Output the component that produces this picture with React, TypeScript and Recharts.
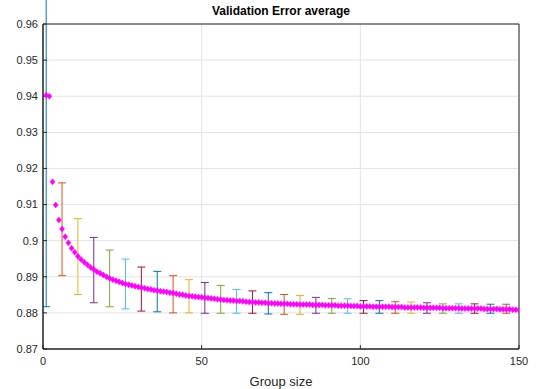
import React from "react";
import {
  ScatterChart,
  Scatter,
  XAxis,
  YAxis,
  CartesianGrid,
  ErrorBar,
  ReferenceArea,
} from "recharts";

// mean validation error for group sizes 1..150
const meanError = [
  0.9403, 0.94, 0.9163, 0.9099, 0.9057, 0.9032, 0.9011, 0.8994, 0.8979, 0.8968,
  0.8957, 0.8948, 0.894, 0.8933, 0.8926, 0.892, 0.8914, 0.891, 0.8905, 0.89,
  0.8896, 0.8892, 0.8889, 0.8886, 0.8883, 0.888, 0.8878, 0.8876, 0.8874, 0.8872,
  0.887, 0.8868, 0.8866, 0.8865, 0.8863, 0.8862, 0.886, 0.8859, 0.8858, 0.8856,
  0.8855, 0.8853, 0.8851, 0.885, 0.8848, 0.8847, 0.8846, 0.8845, 0.8844, 0.8843,
  0.8842, 0.8841, 0.884, 0.8839, 0.8838, 0.8837, 0.8836, 0.8835, 0.8834, 0.8834,
  0.8833, 0.8833, 0.8832, 0.8831, 0.883, 0.883, 0.8829, 0.8829, 0.8828, 0.8828,
  0.8827, 0.8827, 0.8826, 0.8826, 0.8825, 0.8825, 0.8825, 0.8824, 0.8824, 0.8824,
  0.8823, 0.8823, 0.8823, 0.8823, 0.8822, 0.8822, 0.8822, 0.8822, 0.8821, 0.8821,
  0.8821, 0.8821, 0.882, 0.882, 0.882, 0.882, 0.8819, 0.8819, 0.8819, 0.8818,
  0.8818, 0.8818, 0.8818, 0.8817, 0.8817, 0.8817, 0.8817, 0.8817, 0.8817, 0.8816,
  0.8816, 0.8816, 0.8816, 0.8815, 0.8815, 0.8815, 0.8815, 0.8815, 0.8815, 0.8814,
  0.8814, 0.8814, 0.8814, 0.8814, 0.8814, 0.8813, 0.8813, 0.8813, 0.8813, 0.8813,
  0.8813, 0.8812, 0.8812, 0.8812, 0.8812, 0.8812, 0.8812, 0.8812, 0.8811, 0.8811,
  0.8811, 0.8811, 0.8811, 0.881, 0.881, 0.881, 0.881, 0.8809, 0.8809, 0.8808,
];

// error bars every 5 group sizes
const errX = [
  1, 6, 11, 16, 21, 26, 31, 36, 41, 46, 51, 56, 61, 66, 71, 76, 81, 86, 91, 96,
  101, 106, 111, 116, 121, 126, 131, 136, 141, 146,
];
const errTop = [
  0.9989, 0.916, 0.9061, 0.9009, 0.8974, 0.8949, 0.8927, 0.8915, 0.8903, 0.8892,
  0.8884, 0.8876, 0.8865, 0.8861, 0.8856, 0.8851, 0.8848, 0.8843, 0.884, 0.8839,
  0.8834, 0.8834, 0.8831, 0.883, 0.8828, 0.8825, 0.8825, 0.8825, 0.8824, 0.8824,
];
const errBottom = [
  0.8817, 0.8903, 0.8851, 0.8828, 0.8817, 0.8811, 0.8805, 0.8803, 0.88, 0.88,
  0.8799, 0.8799, 0.8799, 0.8799, 0.8797, 0.8796, 0.8796, 0.8799, 0.8799, 0.8799,
  0.8799, 0.8799, 0.8799, 0.8799, 0.8799, 0.8799, 0.8799, 0.8799, 0.8799, 0.8799,
];

const xTicks = [0, 50, 100, 150];
const yTicks = [0.87, 0.88, 0.89, 0.9, 0.91, 0.92, 0.93, 0.94, 0.95, 0.96];

const colors = ["#0072BD", "#D95319", "#EDB120", "#7E2F8E", "#77AC30", "#4DBEEE", "#A2142F"];
const FONT = "'Liberation Sans', Arial, sans-serif";
const AXIS = "#262626";

const meanData = meanError.map((v, i) => ({ x: i + 1, y: v }));

const errGroups = colors.map((_, c) =>
  errX
    .map((x, k) => {
      const mid = (errTop[k] + errBottom[k]) / 2;
      return { k, x, y: mid, err: [mid - errBottom[k], errTop[k] - mid] };
    })
    .filter((d) => d.k % colors.length === c)
);

const Diamond = (props: any) => {
  const { cx, cy } = props;
  if (cx == null || cy == null) return <g />;
  return (
    <polygon
      points={`${cx},${cy - 3} ${cx + 2.5},${cy} ${cx},${cy + 3} ${cx - 2.5},${cy}`}
      fill="#ff00ff"
      stroke="#ff00ff"
      strokeWidth={0.5}
    />
  );
};

const NoPoint = () => <g />;

const fmt = (v: number) => String(Number(v.toFixed(2)));

export default function App() {
  return (
    <div
      style={{
        position: "absolute",
        left: 0,
        top: 0,
        width: 539,
        height: 389,
        background: "#fff",
        fontFamily: FONT,
      }}
    >
      <div
        style={{
          position: "absolute",
          left: 43,
          width: 476,
          top: 4,
          textAlign: "center",
          fontWeight: "bold",
          fontSize: 12,
          color: "#000",
        }}
      >
        Validation Error average
      </div>
      <ScatterChart
        width={539}
        height={389}
        margin={{ top: 24, right: 20, bottom: 0, left: 0 }}
        style={{ fontFamily: FONT }}
      >
        <CartesianGrid stroke="#e3e3e3" />
        <XAxis
          type="number"
          dataKey="x"
          domain={[0, 150]}
          ticks={xTicks}
          allowDataOverflow
          height={40}
          tickSize={-4}
          tickMargin={12}
          axisLine={{ stroke: AXIS }}
          tickLine={{ stroke: AXIS }}
          tick={{ fill: AXIS, fontSize: 11 }}
          label={{ value: "Group size", position: "insideBottom", offset: 3, fill: AXIS, fontSize: 13 }}
        />
        <XAxis
          xAxisId="top"
          orientation="top"
          type="number"
          domain={[0, 150]}
          ticks={xTicks}
          height={0}
          tickSize={-4}
          axisLine={false}
          tickLine={{ stroke: AXIS }}
          tick={false}
        />
        <YAxis
          type="number"
          dataKey="y"
          domain={[0.87, 0.96]}
          ticks={yTicks}
          allowDataOverflow
          width={43}
          tickSize={-4}
          tickMargin={9}
          tickFormatter={fmt}
          axisLine={{ stroke: AXIS }}
          tickLine={{ stroke: AXIS }}
          tick={{ fill: AXIS, fontSize: 11 }}
        />
        <YAxis
          yAxisId="right"
          orientation="right"
          type="number"
          domain={[0.87, 0.96]}
          ticks={yTicks}
          width={0}
          tickSize={-4}
          axisLine={false}
          tickLine={{ stroke: AXIS }}
          tick={false}
        />
        <ReferenceArea x1={0} x2={150} y1={0.87} y2={0.96} fill="none" stroke={AXIS} strokeWidth={1} />
        {errGroups.map((g, c) => (
          <Scatter key={c} data={g} shape={NoPoint} isAnimationActive={false}>
            <ErrorBar dataKey="err" direction="y" width={4} stroke={colors[c]} strokeWidth={1} />
          </Scatter>
        ))}
        <Scatter data={meanData} shape={Diamond} isAnimationActive={false} />
      </ScatterChart>
    </div>
  );
}
